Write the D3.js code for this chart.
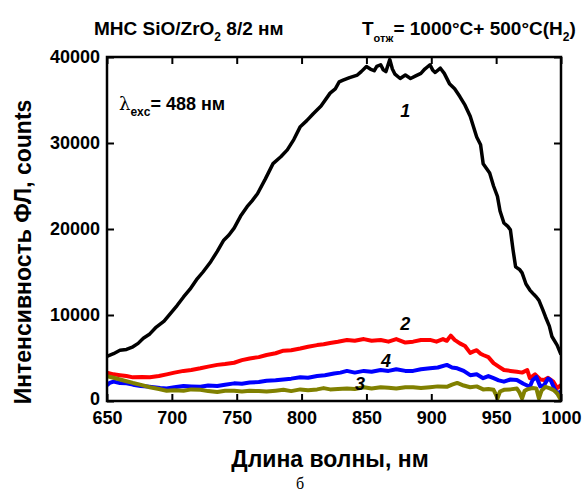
<!DOCTYPE html>
<html>
<head>
<meta charset="utf-8">
<script src="https://cdn.jsdelivr.net/npm/d3@7"></script>
<style>
  body { margin: 0; background: #fff; }
  text { font-family: "Liberation Sans", Arial, sans-serif; font-weight: bold; }
</style>
</head>
<body>
<svg id="chart"></svg>
<script>
// curve 1 (black)
const wl1 = [650, 655, 660, 665, 670, 674, 678, 683, 688, 694, 699, 704, 709, 714, 719, 724, 730, 735, 740, 744, 748, 753, 758, 762, 766, 772, 778, 784, 789, 794, 799, 804, 809, 815, 822, 826, 829, 832, 837, 843, 846, 850, 853, 856, 858, 861, 863, 865, 868, 870, 872, 876, 880, 884, 888, 892, 895, 899, 901, 903, 907, 910, 914, 918, 922, 926, 930, 935, 938, 940, 945, 948, 951, 953, 956, 959, 961, 963, 965, 968, 970, 973, 976, 979, 981, 983, 986, 988, 991, 993, 997, 1000];
const int1 = [5200, 5500, 5900, 6000, 6300, 6700, 7300, 7800, 8600, 9300, 10200, 11100, 12100, 13000, 14100, 15000, 16200, 17400, 18700, 19300, 20100, 21500, 22600, 23300, 24100, 25800, 27600, 28400, 29200, 30400, 31900, 32600, 33400, 34300, 35800, 36300, 37100, 37300, 37600, 37900, 38300, 38900, 38600, 38400, 38900, 39100, 38500, 38300, 39700, 38600, 38000, 37500, 37900, 37500, 37800, 38100, 38600, 39100, 38500, 38200, 38700, 38100, 36900, 36300, 35400, 34400, 33100, 30700, 29800, 27600, 26500, 25000, 23800, 22100, 20700, 20300, 19900, 17600, 15600, 15300, 14900, 13600, 12900, 12400, 12100, 11700, 10600, 9800, 8700, 7500, 6500, 5400];

// curve 2 (red)
const wl2 = [650, 655, 660, 665, 670, 677, 683, 690, 696, 702, 709, 715, 722, 728, 735, 741, 748, 754, 760, 767, 773, 780, 786, 792, 799, 805, 812, 817, 822, 828, 835, 841, 848, 854, 861, 867, 873, 880, 886, 892, 899, 904, 909, 912, 915, 918, 922, 926, 930, 933, 935, 938, 940, 944, 948, 952, 956, 961, 966, 970, 974, 976, 980, 984, 987, 990, 994, 997, 1000];
const int2 = [3300, 3100, 3000, 2900, 2750, 2800, 2750, 2900, 3100, 3300, 3500, 3600, 3800, 4000, 4200, 4300, 4450, 4750, 4950, 5100, 5350, 5550, 5850, 5900, 6100, 6300, 6500, 6600, 6750, 6900, 7100, 7000, 7200, 7000, 7100, 6900, 7200, 6800, 6900, 7100, 7100, 6900, 7200, 7000, 7600, 7100, 6700, 6400, 5600, 5800, 5900, 5500, 5350, 5100, 4400, 4000, 3600, 3500, 3400, 3300, 3600, 2650, 3100, 2500, 2450, 2700, 2250, 1500, 1850];

// curve 3 (olive)
const wl3 = [650, 655, 660, 665, 670, 677, 683, 690, 696, 702, 709, 715, 722, 728, 735, 741, 748, 754, 760, 767, 773, 780, 786, 792, 799, 805, 812, 817, 822, 828, 835, 841, 848, 854, 861, 867, 873, 880, 886, 892, 899, 905, 912, 916, 920, 925, 930, 935, 940, 944, 948, 950, 951, 953, 956, 961, 966, 968, 970, 972, 974, 978, 981, 983, 985, 988, 991, 994, 997, 1000];
const int3 = [2900, 2700, 2500, 2300, 2100, 1850, 1600, 1400, 1200, 1250, 1200, 1350, 1300, 1150, 1050, 1200, 1200, 1100, 1200, 1150, 1100, 1200, 1300, 1150, 1350, 1250, 1350, 1500, 1350, 1400, 1450, 1400, 1600, 1450, 1600, 1550, 1450, 1600, 1600, 1500, 1600, 1700, 1650, 1900, 2100, 1800, 1600, 1700, 1350, 1400, 1300, 700, 300, 1100, 1300, 1350, 1450, 1000, 300, 1200, 1350, 1500, 1450, 300, 1200, 1650, 1500, 1300, 900, 100];

// curve 4 (blue)
const wl4 = [650, 652, 655, 660, 665, 670, 676, 681, 686, 691, 696, 702, 709, 715, 722, 728, 735, 741, 748, 754, 760, 767, 773, 780, 786, 792, 799, 805, 812, 818, 825, 830, 835, 841, 848, 854, 861, 867, 873, 880, 886, 892, 899, 905, 912, 916, 920, 925, 930, 935, 940, 944, 948, 952, 956, 961, 966, 971, 976, 978, 981, 984, 987, 990, 992, 995, 997, 1000];
const int4 = [1850, 2100, 2250, 2100, 2050, 1900, 1750, 1700, 1600, 1500, 1450, 1600, 1750, 1700, 1650, 1800, 1750, 1900, 2050, 2000, 2150, 2200, 2350, 2400, 2500, 2600, 2750, 2700, 2900, 3000, 3200, 3300, 3500, 3300, 3500, 3400, 3600, 3500, 3700, 3500, 3500, 3700, 3800, 3900, 4200, 3900, 3800, 3500, 3000, 3100, 2650, 2900, 2650, 2400, 2250, 2500, 2450, 2000, 1650, 2400, 2800, 1700, 1850, 2600, 2450, 1400, 900, 1100];

const colors = ["#000000", "#ff0000", "#808000", "#0000ff"];
const curveLabels = ["1", "2", "3", "4"];
const xTicks = [650, 700, 750, 800, 850, 900, 950, 1000];
const yTicks = [0, 10000, 20000, 30000, 40000];

const series = [
  { id: "1", wl: wl1, val: int1, color: colors[0], w: 3.5 },
  { id: "2", wl: wl2, val: int2, color: colors[1], w: 4 },
  { id: "3", wl: wl3, val: int3, color: colors[2], w: 4 },
  { id: "4", wl: wl4, val: int4, color: colors[3], w: 4 }
];

const svgWidth = 585, svgHeight = 493;
const margin = { top: 57, right: 24, bottom: 92, left: 107 };
const width = svgWidth - margin.left - margin.right;
const height = svgHeight - margin.top - margin.bottom;

const svgRoot = d3.select("#chart")
  .attr("width", svgWidth)
  .attr("height", svgHeight);

const svg = svgRoot.append("g")
  .attr("transform", `translate(${margin.left},${margin.top})`);

const x = d3.scaleLinear().domain([650, 1000]).range([0, width]);
const y = d3.scaleLinear().domain([0, 40000]).range([height, 0]);

// clip the curves to the frame
svg.append("clipPath").attr("id", "clip")
  .append("rect").attr("width", width).attr("height", height);

const line = d3.line().x(d => x(d[0])).y(d => y(d[1]));

// draw order: 1, 2, 4, 3
[series[0], series[1], series[3], series[2]].forEach(s => {
  svg.append("path")
    .datum(s.wl.map((w, i) => [w, s.val[i]]))
    .attr("clip-path", "url(#clip)")
    .attr("fill", "none")
    .attr("stroke", s.color)
    .attr("stroke-width", s.w)
    .attr("stroke-linejoin", "round")
    .attr("d", line);
});

// Axes (ticks pointing inward)
const styleAxis = g => {
  g.select(".domain").remove();
  g.selectAll(".tick line").attr("stroke", "#000").attr("stroke-width", 2);
  g.selectAll(".tick text").style("font-size", "18px").attr("fill", "#000");
};

svg.append("g")
  .attr("transform", `translate(0,${height})`)
  .call(d3.axisBottom(x).tickValues(xTicks).tickFormat(d3.format("d")).tickSizeInner(-7).tickSizeOuter(0).tickPadding(10))
  .call(styleAxis);

svg.append("g")
  .call(d3.axisTop(x).tickValues(xTicks).tickSizeInner(-7).tickSizeOuter(0).tickFormat(""))
  .call(styleAxis);

svg.append("g")
  .call(d3.axisLeft(y).tickValues(yTicks).tickFormat(d3.format("d")).tickSizeInner(-7).tickSizeOuter(0).tickPadding(7))
  .call(styleAxis);

// lift the "0" label a little so it clears "650"
svg.selectAll(".tick text").filter(d => d === 0).attr("dy", "0.2em");

svg.append("g")
  .attr("transform", `translate(${width},0)`)
  .call(d3.axisRight(y).tickValues(yTicks).tickSizeInner(-7).tickSizeOuter(0).tickFormat(""))
  .call(styleAxis);

// frame
svg.append("rect")
  .attr("width", width).attr("height", height)
  .attr("fill", "none").attr("stroke", "#000").attr("stroke-width", 2.5);

// Axis titles
svg.append("text")
  .attr("x", width / 2 - 4)
  .attr("y", height + 66)
  .attr("text-anchor", "middle")
  .style("font-size", "23px")
  .text("Длина волны, нм");

svg.append("text")
  .attr("transform", `translate(${-76},${195}) rotate(-90)`)
  .attr("text-anchor", "middle")
  .style("font-size", "23px")
  .text("Интенсивность ФЛ, counts");

// panel letter
svgRoot.append("text")
  .attr("x", 300).attr("y", 489)
  .attr("text-anchor", "middle")
  .style("font-family", "'Liberation Serif', 'Times New Roman', serif")
  .style("font-weight", "normal")
  .style("font-size", "16px")
  .text("б");

// Title line
const t1 = svgRoot.append("text").attr("x", 94).attr("y", 35).style("font-size", "19px");
t1.append("tspan").text("МНС SiO/ZrO");
t1.append("tspan").attr("dy", 6).style("font-size", "12px").text("2");
t1.append("tspan").attr("dy", -6).text(" 8/2 нм");

const t2 = svgRoot.append("text").attr("x", 362).attr("y", 35).style("font-size", "19px");
t2.append("tspan").text("T");
t2.append("tspan").attr("dy", 7).style("font-size", "11px").text("отж");
t2.append("tspan").attr("dy", -7).text("= 1000°C+ 500°C(H");
t2.append("tspan").attr("dy", 6).style("font-size", "12px").text("2");
t2.append("tspan").attr("dy", -6).text(")");

// excitation label
const ex = svg.append("text").attr("x", 12).attr("y", 53).style("font-size", "18px");
ex.append("tspan").style("font-family", "'DejaVu Serif', serif").style("font-weight", "normal").text("λ");
ex.append("tspan").attr("dy", 6).style("font-size", "12px").text("exc");
ex.append("tspan").attr("dy", -6).text("= 488 нм");

// curve numbers
const labelPos = [[880, 33000], [880, 8300], [845, 1300], [865, 3950]];
svg.selectAll(".num")
  .data(curveLabels)
  .enter()
  .append("text")
  .attr("class", "num")
  .attr("x", (d, i) => x(labelPos[i][0]))
  .attr("y", (d, i) => y(labelPos[i][1]))
  .attr("text-anchor", "middle")
  .style("font-size", "18px")
  .style("font-style", "italic")
  .text(d => d);
</script>
</body>
</html>
